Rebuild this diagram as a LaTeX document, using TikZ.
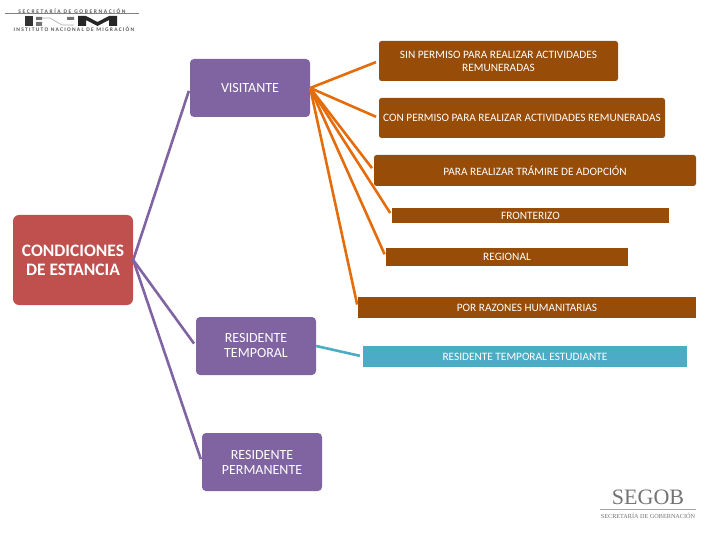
\documentclass[tikz,border=0pt]{standalone}
\usepackage{fontspec}
\setmainfont{Carlito}
\newfontfamily\logofont{Liberation Serif}
\usepackage{xcolor}
\usetikzlibrary{arrows.meta,positioning,calc}
\definecolor{brownbox}{HTML}{974C07}
\definecolor{purplebox}{HTML}{8064A2}
\definecolor{redbox}{HTML}{C0504D}
\definecolor{tealbox}{HTML}{4BACC6}
\definecolor{orangeline}{HTML}{E46C0A}
\begin{document}
\begin{tikzpicture}[
        x=1pt, y=-1pt,
        font=\fontsize{11.3}{13}\selectfont,
        base/.style={text=white, inner sep=0pt, align=center},
        cond/.style={base, fill=redbox, rounded corners=6pt, minimum width=120pt, minimum height=90pt, font=\fontsize{17.5}{19}\selectfont\bfseries},
        tipo/.style={base, fill=purplebox, rounded corners=4pt, minimum width=120pt, minimum height=58pt, font=\fontsize{14}{15}\selectfont},
        cafe/.style={base, fill=brownbox, rounded corners=2.5pt},
        cafeflat/.style={base, fill=brownbox},
        estudiante/.style={base, fill=tealbox},
        purpleline/.style={draw=purplebox, line width=2.6pt, shorten >=3pt},
        orangelink/.style={draw=orangeline, line width=2.6pt, shorten >=3pt},
        teallink/.style={draw=tealbox, line width=2.6pt, shorten >=3pt},
        logotext/.style={text=black!65, inner sep=0pt, font=\fontsize{5.5}{6}\selectfont\bfseries}
    ]
    \useasboundingbox (0,0) rectangle (720,540);

    % ==========================================
    % Main boxes
    % ==========================================
    \node[cond] (cond) at (73, 260) {CONDICIONES\\DE ESTANCIA};
    \node[tipo] (visitante) at (250, 88) {VISITANTE};
    \node[tipo] (temporal) at (256, 346) {RESIDENTE\\TEMPORAL};
    \node[tipo] (permanente) at (262, 462) {RESIDENTE\\PERMANENTE};

    % ==========================================
    % Visitante branch
    % ==========================================
    \node[cafe, minimum width=239pt, minimum height=40pt] (sinpermiso) at (498.5, 61) {SIN PERMISO PARA REALIZAR ACTIVIDADES\\REMUNERADAS};
    \node[cafe, minimum width=286pt, minimum height=40pt] (conpermiso) at (522, 118) {CON PERMISO PARA REALIZAR ACTIVIDADES REMUNERADAS};
    \node[cafe, minimum width=322pt, minimum height=31pt] (adopcion) at (535, 170.5) {PARA REALIZAR TRÁMIRE DE ADOPCIÓN};
    \node[cafeflat, minimum width=277pt, minimum height=15pt] (fronterizo) at (530.5, 215.5) {FRONTERIZO};
    \node[cafeflat, minimum width=242pt, minimum height=18pt] (regional) at (507, 257) {REGIONAL};
    \node[cafeflat, minimum width=338pt, minimum height=21pt] (razones) at (527, 307.5) {POR RAZONES HUMANITARIAS};
    \node[estudiante, minimum width=324pt, minimum height=21pt] (estudiante) at (525, 356.5) {RESIDENTE TEMPORAL ESTUDIANTE};

    % ==========================================
    % Connectors
    % ==========================================
    \foreach \dest in {visitante, temporal, permanente} {
        \draw[purpleline] (cond.east) -- (\dest.west);
    }
    \foreach \dest in {sinpermiso, conpermiso, adopcion, fronterizo, regional, razones} {
        \draw[orangelink] (visitante.east) -- (\dest.west);
    }
    \draw[teallink] (temporal.east) -- (estudiante.west);

    % ==========================================
    % Logos
    % ==========================================
    \node[logotext] (inmtop) at (72, 11) {\addfontfeature{LetterSpace=30}SECRETARÍA DE GOBERNACIÓN};
    \node[logotext] (inmbot) at (74, 29.5) {\addfontfeature{LetterSpace=23}INSTITUTO NACIONAL DE MIGRACIÓN};
    \draw[black!50, line width=0.5pt] (5, 13.5) -- (139, 13.5);
    \fill[black!80] (25, 16) rectangle (33, 26);
    \fill[black!55] (36, 17) rectangle (42, 20) (36, 22) rectangle (42, 26) (67, 17) rectangle (74, 20);
    \draw[black!35, line width=0.6pt] (42, 18) -- (50, 18) -- (62, 25) -- (74, 25);
    \fill[black!85] (78, 16) -- (86, 16) -- (97.5, 22) -- (109, 16) -- (117, 16) -- (117, 26) -- (109, 26) -- (109, 20) -- (97.5, 26) -- (86, 20) -- (86, 26) -- (78, 26) -- cycle;

    \node[text=black!55, inner sep=0pt, font=\fontsize{22}{24}\logofont] (segob) at (648, 497) {SEGOB};
    \node[text=black!55, inner sep=0pt, font=\fontsize{6.2}{7}\logofont] (segobsub) at (648, 515.5) {SECRETARÍA DE GOBERNACIÓN};
    \draw[black!35, line width=0.5pt] (600, 509.5) -- (696, 509.5);
\end{tikzpicture}
\end{document}
